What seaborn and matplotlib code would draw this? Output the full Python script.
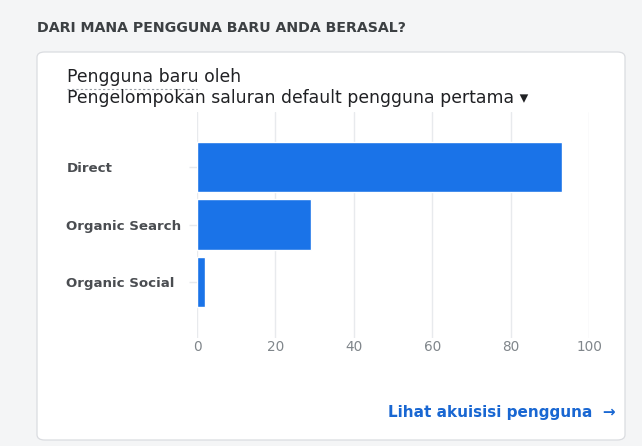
import matplotlib
matplotlib.use("Agg")
import matplotlib.pyplot as plt
import seaborn as sns
import pandas as pd
from matplotlib.patches import FancyBboxPatch

channels = ["Direct", "Organic Search", "Organic Social"]
new_users = [93, 29, 2]
x_ticks = [0, 20, 40, 60, 80, 100]

title = "DARI MANA PENGGUNA BARU ANDA BERASAL?"
sub1 = "Pengguna baru oleh"
sub2 = "Pengelompokan saluran default pengguna pertama ▾"
link = "Lihat akuisisi pengguna  →"

df = pd.DataFrame({"channel": channels, "users": new_users})

sns.set_theme(style="white")
plt.rcParams["font.family"] = ["DejaVu Sans"]

W, H = 642, 446
fig = plt.figure(figsize=(W / 100, H / 100), dpi=100)
fig.patch.set_facecolor("#f4f5f6")

# card
card = FancyBboxPatch((37 / W, (H - 440) / H), (625 - 37) / W, (440 - 52) / H,
                      boxstyle="round,pad=0,rounding_size=0.012",
                      transform=fig.transFigure, facecolor="white",
                      edgecolor="#dadce0", linewidth=0.9, zorder=-10)
fig.patches.append(card)

fig.text(37 / W, 1 - 28 / H, title, fontsize=10.2, fontweight="bold",
         color="#3c4043", ha="left", va="center")
fig.text(67 / W, 1 - 77 / H, sub1, fontsize=12.4, color="#202124",
         ha="left", va="center")
fig.add_artist(plt.Line2D([67 / W, 197 / W], [1 - 89 / H, 1 - 89 / H],
                          transform=fig.transFigure, color="#9aa0a6",
                          linewidth=0.8, linestyle=(0, (2, 2))))
fig.text(67 / W, 1 - 98 / H, sub2, fontsize=12.4, color="#202124",
         ha="left", va="center")
fig.text(616 / W, 1 - 413 / H, link, fontsize=11, fontweight="bold",
         color="#1967d2", ha="right", va="center")

ax = fig.add_axes([197 / W, 1 - 338 / H, (589 - 197) / W, (338 - 112) / H])
ax.set_facecolor("none")
sns.barplot(data=df, x="users", y="channel", color="#1a73e8",
            width=0.88, saturation=1, ax=ax, zorder=3)
ax.set_xlim(0, 100)
ax.set_ylim(2.97, -0.957)
ax.set_xticks(x_ticks)
ax.set_xticklabels([str(t) for t in x_ticks])
ax.grid(axis="x", color="#e8eaed", linewidth=1, zorder=0)
ax.grid(axis="y", visible=False)
ax.set_axisbelow(True)
for s in ax.spines.values():
    s.set_visible(False)
ax.set_xlabel("")
ax.set_ylabel("")
ax.tick_params(axis="x", length=0, pad=1.5, labelsize=9.8, labelcolor="#80868b")
ax.tick_params(axis="y", length=6, color="#e8eaed", width=1, left=True,
               pad=88, labelsize=9.6, labelcolor="#4a4d51")
for lab in ax.get_yticklabels():
    lab.set_ha("left")
    lab.set_fontweight("bold")

fig.savefig("out.png", dpi=100)
